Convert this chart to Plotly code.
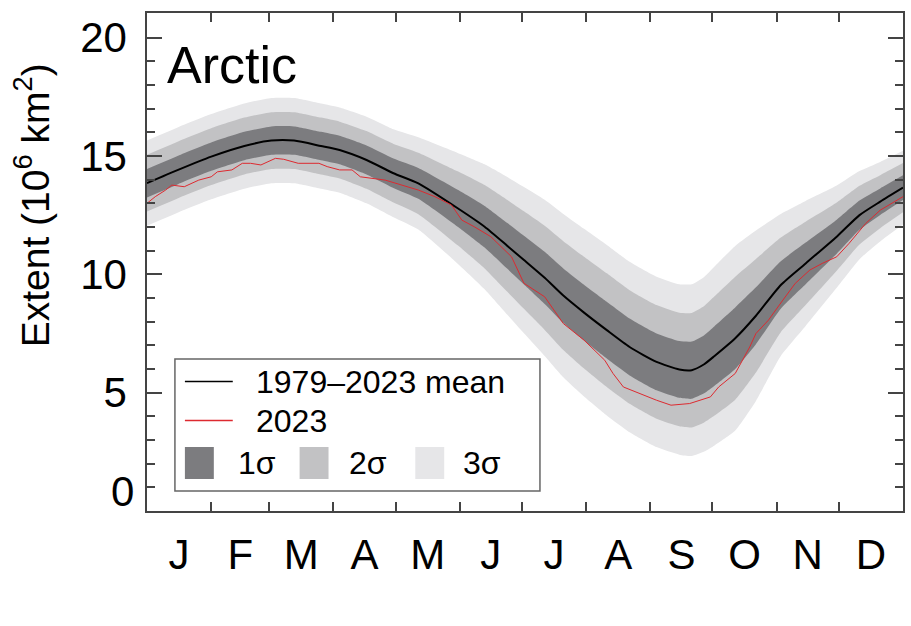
import numpy as np
import plotly.graph_objects as go

# ---------------- data ----------------
days = [0, 15, 31, 47, 60, 71, 84, 93, 106, 119, 131, 150, 163, 174, 182, 192,
        201, 211, 222, 233, 246, 257, 263, 269, 274, 284, 294, 306, 318, 333,
        344, 354, 365]
mean_extent = [13.85, 14.41, 14.97, 15.42, 15.65, 15.65, 15.42, 15.25, 14.83,
               14.27, 13.84, 12.79, 12.01, 11.20, 10.60, 9.85, 9.10, 8.38,
               7.64, 6.93, 6.30, 5.98, 5.95, 6.20, 6.55, 7.30, 8.25, 9.55,
               10.46, 11.59, 12.50, 13.07, 13.66]
sd_extent = [0.60, 0.60, 0.60, 0.60, 0.60, 0.60, 0.60, 0.60, 0.61, 0.62, 0.65,
             0.78, 0.88, 0.97, 1.03, 1.10, 1.15, 1.18, 1.20, 1.20, 1.20, 1.20,
             1.21, 1.23, 1.26, 1.30, 1.20, 1.00, 0.88, 0.72, 0.62, 0.56, 0.52]

days_2023 = [0, 4, 9, 12, 18, 25, 31, 34, 41, 46, 50, 55, 62, 66, 73, 83, 87,
             93, 99, 103, 115, 123, 131, 139, 147, 152, 158, 166, 176, 182,
             192, 201, 211, 221, 225, 230, 238, 246, 253, 262, 272, 276, 284,
             291, 294, 300, 307, 313, 320, 326, 333, 339, 347, 354, 365]
extent_2023 = [13.00, 13.28, 13.56, 13.77, 13.70, 13.98, 14.12, 14.33, 14.41,
               14.69, 14.69, 14.62, 14.90, 14.86, 14.69, 14.69, 14.55, 14.41,
               14.41, 14.12, 13.98, 13.77, 13.56, 13.28, 12.93, 12.29, 12.01,
               11.59, 10.74, 9.62, 9.05, 7.92, 7.22, 6.37, 5.81, 5.24, 4.96,
               4.68, 4.47, 4.54, 4.82, 5.24, 5.81, 6.93, 7.50, 8.06, 8.91, 9.62,
               10.18, 10.46, 10.74, 11.31, 12.15, 12.71, 13.28]

month_labels = ["J", "F", "M", "A", "M", "J", "J", "A", "S", "O", "N", "D"]
month_edges = [0, 31, 59, 90, 120, 151, 181, 212, 243, 273, 304, 334, 365]
ytick_vals = [5, 10, 15, 20]
ytick_text = ["5", "10", "15", "20"]
zero_label = "0"
sigma_levels = [3, 2, 1]
sigma_colors = {1: "#7c7c7f", 2: "#c2c2c4", 3: "#e6e6e8"}
sigma_labels = {1: "1σ", 2: "2σ", 3: "3σ"}

FONT = "Liberation Sans, Arial, Helvetica, sans-serif"

mean_arr = np.array(mean_extent)
sd_arr = np.array(sd_extent)
month_mid = [(a + b) / 2 for a, b in zip(month_edges[:-1], month_edges[1:])]

fig = go.Figure()
for k in sigma_levels:
    fig.add_trace(go.Scatter(x=days, y=mean_arr - k * sd_arr, mode="lines",
                             line=dict(width=0, shape="spline", smoothing=0.5),
                             showlegend=False, hoverinfo="skip"))
    fig.add_trace(go.Scatter(x=days, y=mean_arr + k * sd_arr, mode="lines",
                             line=dict(width=0, shape="spline", smoothing=0.5),
                             fill="tonexty", fillcolor=sigma_colors[k],
                             name=sigma_labels[k], showlegend=False))

fig.add_trace(go.Scatter(x=days, y=mean_extent, mode="lines",
                         line=dict(color="black", width=2, shape="spline",
                                   smoothing=0.6),
                         name="1979–2023 mean", showlegend=False))
fig.add_trace(go.Scatter(x=days_2023, y=extent_2023, mode="lines",
                         line=dict(color="#dd2a30", width=1),
                         name="2023", showlegend=False))

# plot area in pixels: left 147, right 905, top 13, bottom 511
L, R, T, B = 147, 905, 13, 511
W, H = 911, 626


def PX(x):
    return (x - L) / (R - L)


def PY(y):
    return (B - y) / (B - T)


AX = "#444444"
fig.update_layout(
    width=W, height=H,
    margin=dict(l=L, r=W - R, t=T, b=H - B),
    paper_bgcolor="white", plot_bgcolor="white",
    font=dict(family=FONT, color="black"),
    showlegend=False,
    xaxis=dict(range=[0, 365], tickvals=month_mid, ticktext=month_labels,
               ticks="", showline=True, linecolor=AX, linewidth=1.5,
               mirror="ticks", showgrid=False, zeroline=False,
               tickfont=dict(size=42, family=FONT, color="black"),
               ticklabelstandoff=6,
               minor=dict(tickvals=month_edges[1:-1], ticks="inside",
                          ticklen=9, tickwidth=1.5, tickcolor=AX,
                          showgrid=False)),
    yaxis=dict(range=[0, 21.04], tickvals=ytick_vals, ticktext=ytick_text,
               ticks="inside", ticklen=15, tickwidth=1.5, tickcolor=AX,
               showline=True, linecolor=AX, linewidth=1.5, mirror="ticks",
               showgrid=False, zeroline=False,
               tickfont=dict(size=42, family=FONT, color="black"),
               ticklabelstandoff=10,
               minor=dict(dtick=1, ticks="inside", ticklen=8, tickwidth=1.5,
                          tickcolor=AX, showgrid=False)),
)

ann = []
# "0" tick label, lifted off the corner as in the reference
ann.append(dict(x=0, xref="paper", y=0.83, yref="y", text=zero_label,
                showarrow=False, xanchor="right", yanchor="middle",
                xshift=-11, font=dict(size=42, family=FONT, color="black")))
# y-axis title
ann.append(dict(x=PX(31), xref="paper", y=PY(205), yref="paper",
                text="Extent (10<sup>6</sup> km<sup>2</sup>)", textangle=-90,
                showarrow=False, xanchor="center", yanchor="middle",
                font=dict(size=39, family=FONT, color="black")))
# panel title
ann.append(dict(x=PX(165), xref="paper", y=PY(65), yref="paper",
                text="Arctic", showarrow=False, xanchor="left",
                yanchor="middle", font=dict(size=52, family=FONT,
                                            color="black")))

shapes = []
# legend box
shapes.append(dict(type="rect", xref="paper", yref="paper",
                   x0=PX(175), x1=PX(541), y0=PY(491), y1=PY(359),
                   line=dict(color="#666666", width=1.5), fillcolor="white",
                   layer="above"))
leg_font = dict(size=32, family=FONT, color="black")
for yy, col, txt in [(381.5, "black", "1979–2023 mean"),
                     (420.5, "#dd2a30", "2023")]:
    shapes.append(dict(type="line", xref="paper", yref="paper",
                       x0=PX(185), x1=PX(233), y0=PY(yy), y1=PY(yy),
                       line=dict(color=col, width=1.5), layer="above"))
    ann.append(dict(x=PX(254), xref="paper", y=PY(yy), yref="paper",
                    text=txt, showarrow=False, xanchor="left",
                    yanchor="middle", font=leg_font))
for k, (sx, tx) in zip([1, 2, 3], [(185, 236), (300, 348), (416, 462)]):
    shapes.append(dict(type="rect", xref="paper", yref="paper",
                       x0=PX(sx), x1=PX(sx + 29), y0=PY(479), y1=PY(447),
                       line=dict(width=0), fillcolor=sigma_colors[k],
                       layer="above"))
    ann.append(dict(x=PX(tx), xref="paper", y=PY(463), yref="paper",
                    text=sigma_labels[k], showarrow=False, xanchor="left",
                    yanchor="middle", font=leg_font))

fig.update_layout(annotations=ann, shapes=shapes)
fig.write_html("out.html")
